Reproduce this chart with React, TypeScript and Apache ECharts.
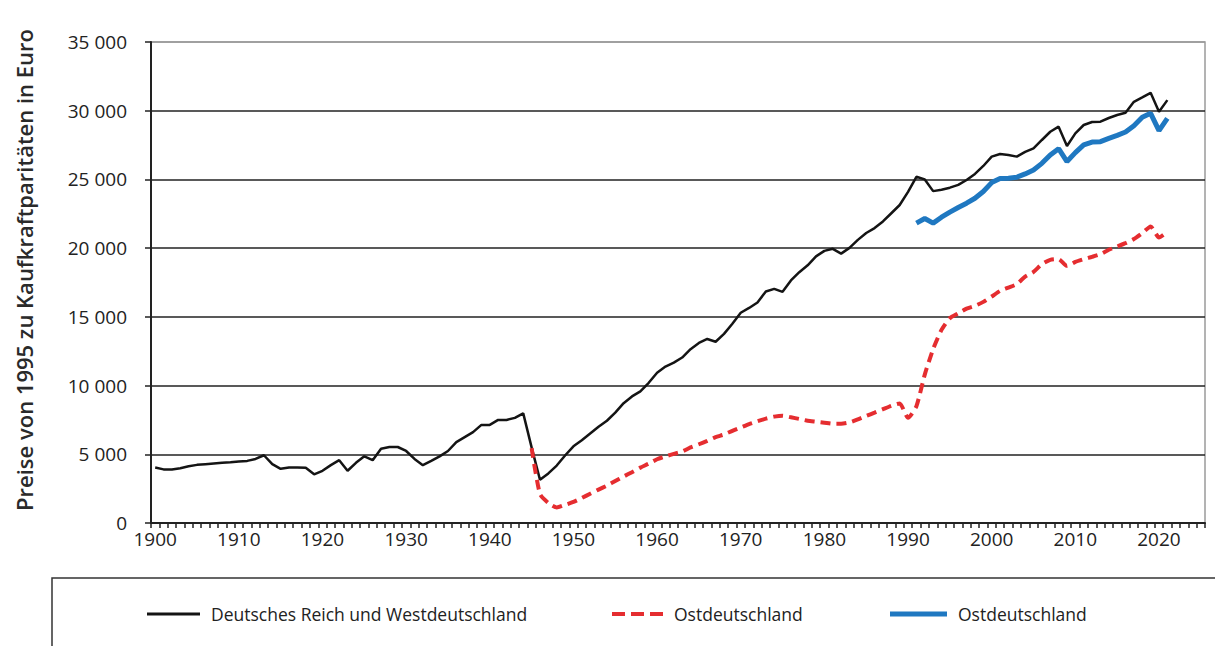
import React, { useEffect, useRef } from "react";
import * as echarts from "echarts";

// Category years shown on the x axis (1900–2025)
const FIRST_YEAR = 1900;
const LAST_YEAR = 2025;
const years: string[] = [];
for (let y = FIRST_YEAR; y <= LAST_YEAR; y++) years.push(String(y));

// Deutsches Reich und Westdeutschland, 1900–2021
const westStart = 1900;
const westValues = [
  4040, 3900, 3900, 3990, 4130, 4230, 4280, 4330, 4380, 4420,
  4470, 4520, 4660, 4930, 4280, 3940, 4040, 4040, 4020, 3540,
  3800, 4210, 4570, 3800, 4380, 4850, 4570, 5410, 5530, 5530,
  5240, 4660, 4210, 4520, 4850, 5240, 5890, 6250, 6610, 7140,
  7140, 7500, 7500, 7650, 7980, 5500, 3150, 3610, 4180, 4910,
  5580, 6020, 6510, 7000, 7440, 8030, 8720, 9210, 9580, 10200,
  10930, 11380, 11670, 12040, 12650, 13100, 13390, 13190, 13760, 14500,
  15300, 15650, 16050, 16850, 17040, 16820, 17650, 18250, 18750, 19400,
  19800, 19950, 19600, 20020, 20600, 21100, 21460, 21940, 22540, 23140,
  24100, 25190, 25000, 24150, 24250, 24400, 24600, 24960, 25400, 25980,
  26660, 26850, 26780, 26660, 27000, 27260, 27870, 28470, 28840, 27430,
  28350, 28960, 29180, 29200, 29470, 29690, 29850, 30650, 30970, 31300,
  29930, 30770,
];

// Ostdeutschland (dashed), 1945–2021
const eastStart = 1945;
const eastValues = [
  5450, 2110, 1460, 1130, 1320, 1530, 1820, 2130, 2430, 2720,
  3050, 3380, 3700, 4030, 4320, 4640, 4850, 5030, 5200, 5500,
  5730, 5980, 6250, 6440, 6710, 6950, 7200, 7400, 7590, 7740,
  7810, 7690, 7570, 7440, 7370, 7300, 7220, 7220, 7320, 7540,
  7790, 8030, 8280, 8530, 8700, 7650, 8500, 10800, 12650, 14050,
  14900, 15260, 15600, 15800, 16090, 16480, 16890, 17130, 17380, 17930,
  18270, 18830, 19150, 19200, 18710, 19000, 19200, 19370, 19560, 19880,
  20120, 20360, 20660, 21090, 21580, 20780, 21190,
];

// Ostdeutschland (blue), 1991–2021
const blueStart = 1991;
const blueValues = [
  21820, 22160, 21820, 22250, 22620, 22960, 23270, 23630, 24120, 24770,
  25060, 25090, 25160, 25400, 25690, 26170, 26780, 27240, 26300, 26950,
  27510, 27720, 27750, 27990, 28210, 28450, 28910, 29520, 29810, 28550,
  29440,
];

const yTicks = [0, 5000, 10000, 15000, 20000, 25000, 30000, 35000];

const seriesNames = [
  "Deutsches Reich und Westdeutschland",
  "Ostdeutschland",
  "Ostdeutschland",
];
const yTitle = "Preise von 1995 zu Kaufkraftparitäten in Euro";

function alignToYears(start: number, vals: number[]): (number | null)[] {
  return years.map((y) => {
    const k = Number(y) - start;
    return k >= 0 && k < vals.length ? vals[k] : null;
  });
}

function fmt(v: number): string {
  if (v === 0) return "0";
  const th = Math.floor(v / 1000);
  const rest = String(v % 1000).padStart(3, "0");
  return `${th} ${rest}`;
}

const FONT = "'Open Sans', 'DejaVu Sans', sans-serif";
const BLACK = "#141414";
const RED = "#e52d30";
const BLUE = "#1f78c1";

export default function App() {
  const ref = useRef<HTMLDivElement>(null);
  useEffect(() => {
    if (!ref.current) return;
    const chart = echarts.init(ref.current, null, { renderer: "svg" });
    chart.setOption({
      animation: false,
      backgroundColor: "#ffffff",
      grid: {
        left: 151,
        right: 10,
        top: 42,
        bottom: 123,
        show: true,
        borderColor: "#9a9a9a",
        borderWidth: 1.5,
        backgroundColor: "transparent",
      },
      xAxis: {
        type: "category",
        data: years,
        boundaryGap: true,
        axisLine: { show: true, lineStyle: { color: "#222", width: 2 } },
        axisTick: {
          show: true,
          interval: 0,
          length: 5,
          lineStyle: { color: "#222", width: 1.5 },
        },
        axisLabel: {
          interval: 9,
          color: "#222",
          fontSize: 19,
          fontFamily: FONT,
          margin: 6,
        },
        splitLine: { show: false },
      },
      yAxis: {
        type: "value",
        min: yTicks[0],
        max: yTicks[yTicks.length - 1],
        interval: 5000,
        axisLine: { show: true, lineStyle: { color: "#222", width: 2 } },
        axisTick: { show: true, length: 6, lineStyle: { color: "#222", width: 1.5 } },
        axisLabel: {
          color: "#222",
          fontSize: 19,
          fontFamily: FONT,
          margin: 24,
          formatter: (v: number) => fmt(v),
        },
        splitLine: {
          show: true,
          lineStyle: {
            color: ["#222", "#222", "#222", "#222", "#222", "#222", "#222", "#9a9a9a"],
            width: 1.5,
          },
        },
      },
      series: [
        {
          name: seriesNames[0],
          type: "line",
          data: alignToYears(westStart, westValues),
          symbol: "none",
          lineStyle: { color: BLACK, width: 2.5 },
          z: 2,
        },
        {
          name: seriesNames[1],
          type: "line",
          data: alignToYears(eastStart, eastValues),
          symbol: "none",
          smooth: 0.2,
          lineStyle: { color: RED, width: 4, type: [10, 6] },
          z: 3,
        },
        {
          name: seriesNames[2],
          type: "line",
          data: alignToYears(blueStart, blueValues),
          symbol: "none",
          lineStyle: { color: BLUE, width: 5 },
          z: 4,
        },
      ],
      graphic: [
        {
          type: "text",
          x: 24,
          y: 270,
          rotation: Math.PI / 2,
          style: {
            text: yTitle,
            fontSize: 22,
            fontWeight: 600,
            fontFamily: FONT,
            fill: "#2a2a2a",
            align: "center",
            verticalAlign: "middle",
          },
        },
        {
          type: "rect",
          shape: { x: 52, y: 578, width: 1200, height: 90 },
          style: { fill: "none", stroke: "#333", lineWidth: 1.5 },
        },
        {
          type: "line",
          shape: { x1: 147, y1: 614, x2: 200, y2: 614 },
          style: { stroke: BLACK, lineWidth: 3 },
        },
        {
          type: "text",
          x: 211,
          y: 614,
          style: {
            text: seriesNames[0],
            fontSize: 17.5,
            fontFamily: FONT,
            fill: "#222",
            verticalAlign: "middle",
          },
        },
        {
          type: "line",
          shape: { x1: 612, y1: 614, x2: 665, y2: 614 },
          style: { stroke: RED, lineWidth: 4, lineDash: [13, 6] },
        },
        {
          type: "text",
          x: 674,
          y: 614,
          style: {
            text: seriesNames[1],
            fontSize: 17.5,
            fontFamily: FONT,
            fill: "#222",
            verticalAlign: "middle",
          },
        },
        {
          type: "line",
          shape: { x1: 890, y1: 614, x2: 947, y2: 614 },
          style: { stroke: BLUE, lineWidth: 5 },
        },
        {
          type: "text",
          x: 958,
          y: 614,
          style: {
            text: seriesNames[2],
            fontSize: 17.5,
            fontFamily: FONT,
            fill: "#222",
            verticalAlign: "middle",
          },
        },
      ],
    });
    return () => chart.dispose();
  }, []);
  return (
    <div
      ref={ref}
      style={{ position: "fixed", left: 0, top: 0, width: 1215, height: 646, background: "#fff" }}
    />
  );
}
